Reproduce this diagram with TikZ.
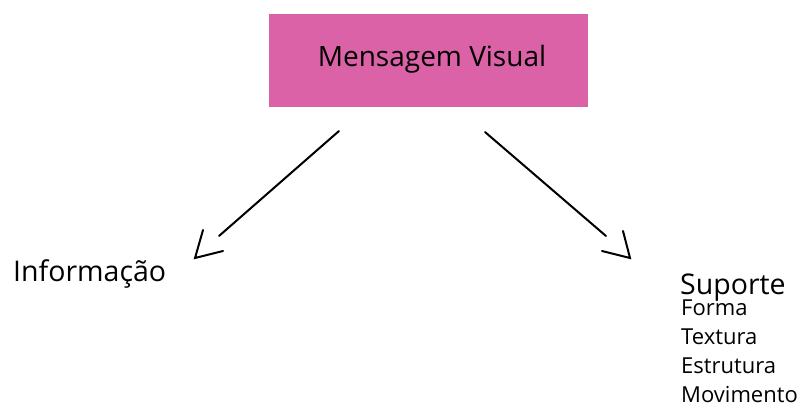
\documentclass[tikz,border=0pt]{standalone}
\usepackage{fontspec}
\setmainfont{Open Sans}
\definecolor{boxpink}{RGB}{220,98,168}
\tikzset{
  x=1pt, y=-1pt,
  titlebox/.style={fill=boxpink, draw=none, minimum width=319pt, minimum height=93pt, inner sep=0pt},
  stroke/.style={line width=2pt, line cap=round, line join=miter},
  lbl/.style={anchor=base west, inner sep=0pt, font=\fontsize{28.5}{34}\selectfont},
  item/.style={anchor=base west, inner sep=0pt, font=\fontsize{22}{26}\selectfont}
}
\begin{document}
\begin{tikzpicture}
\useasboundingbox (0,0) rectangle (802,408);
\node[titlebox] (msg) at (428.5,60.5) {};
\node[anchor=base, inner sep=0pt, font=\fontsize{28}{32}\selectfont] (msgtxt) at (432,66) {Mensagem Visual};
% arrow shafts and detached open heads
\coordinate (l1) at (339,131); \coordinate (l2) at (219,236);
\coordinate (lh) at (195,258);
\coordinate (la) at (203,230); \coordinate (lb) at (223,251);
\coordinate (r1) at (485,132); \coordinate (r2) at (606,236);
\coordinate (rh) at (630,258);
\coordinate (ra) at (623,231); \coordinate (rb) at (602,251);
\draw[stroke] (l1) -- (l2);
\draw[stroke] (la) -- (lh) -- (lb);
\draw[stroke] (r1) -- (r2);
\draw[stroke] (ra) -- (rh) -- (rb);
\node[lbl] (info) at (13,281) {Informação};
\node[lbl] (sup) at (680,294) {Suporte};
\node[item] (f1) at (681,315.5) {Forma};
\node[item] (f2) at (681,344.5) {Textura};
\node[item] (f3) at (681,373.5) {Estrutura};
\node[item] (f4) at (681,402.5) {Movimento};
\end{tikzpicture}
\end{document}
